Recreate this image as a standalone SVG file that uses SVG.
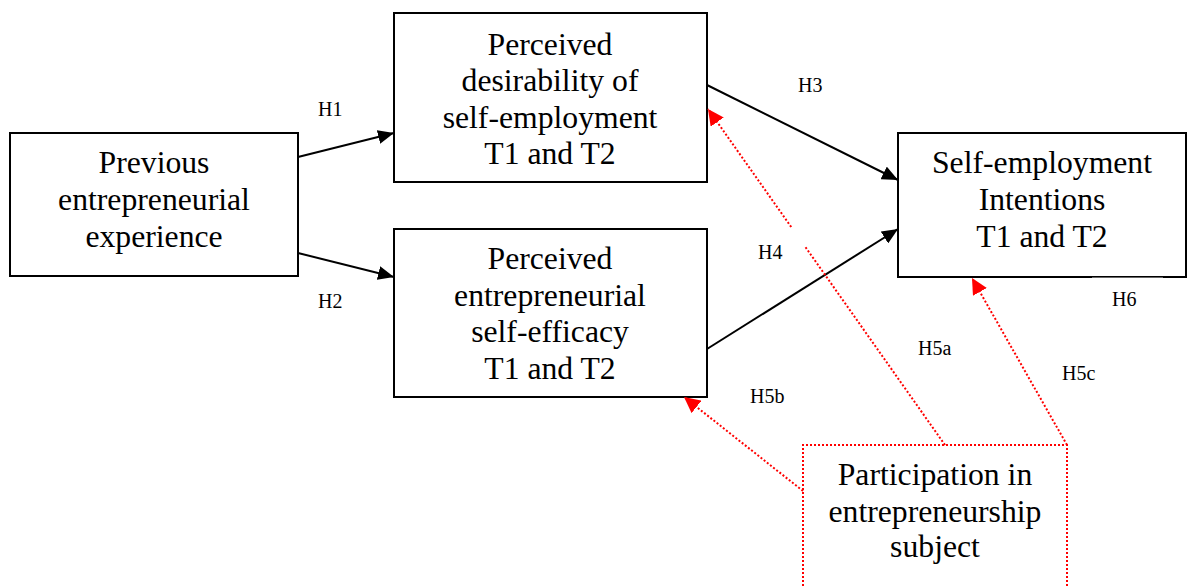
<svg xmlns="http://www.w3.org/2000/svg" width="1191" height="588" viewBox="0 0 1191 588">
  <style>
    .box { fill: #ffffff; stroke: #000000; stroke-width: 2; }
    .t { font-family: "Liberation Serif", "Times New Roman", serif; font-size: 31.7px; fill: #000000; text-anchor: middle; }
    .lbl { font-family: "Liberation Serif", "Times New Roman", serif; font-size: 20px; fill: #000000; }
    .solid { stroke: #000000; stroke-width: 2; fill: none; }
    .dot { stroke: #ff0000; stroke-width: 2; stroke-dasharray: 2 2; fill: none; }
  </style>
  <defs>
    <marker id="ab" markerUnits="userSpaceOnUse" markerWidth="18" markerHeight="14" refX="16" refY="7" orient="auto">
      <path d="M0,0 L16,7 L0,14 Z" fill="#000000"/>
    </marker>
    <marker id="ar" markerUnits="userSpaceOnUse" markerWidth="18" markerHeight="16" refX="16" refY="8" orient="auto">
      <path d="M0,0 L16,8 L0,16 Z" fill="#ff0000"/>
    </marker>
  </defs>
  <rect width="1191" height="588" fill="#ffffff"/>

  <g id="node-previous">
    <rect class="box" x="10" y="133" width="288" height="143"/>
    <text class="t" x="154" y="173">Previous</text>
    <text class="t" x="154" y="210">entrepreneurial</text>
    <text class="t" x="154" y="247">experience</text>
  </g>

  <g id="node-desirability">
    <rect class="box" x="394" y="13" width="313" height="169"/>
    <text class="t" x="550" y="55">Perceived</text>
    <text class="t" x="550" y="91">desirability of</text>
    <text class="t" x="550" y="128">self-employment</text>
    <text class="t" x="550" y="164">T1 and T2</text>
  </g>

  <g id="node-selfefficacy">
    <rect class="box" x="394" y="229" width="313" height="168"/>
    <text class="t" x="550" y="269">Perceived</text>
    <text class="t" x="550" y="306">entrepreneurial</text>
    <text class="t" x="550" y="342">self-efficacy</text>
    <text class="t" x="550" y="379">T1 and T2</text>
  </g>

  <g id="node-intentions">
    <rect class="box" x="898" y="133" width="288" height="144"/>
    <rect x="1092" y="277.6" width="71" height="2" fill="#ffffff"/>
    <text class="t" x="1042" y="173">Self-employment</text>
    <text class="t" x="1042" y="210">Intentions</text>
    <text class="t" x="1042" y="247">T1 and T2</text>
  </g>

  <g id="node-participation">
    <path class="dot" d="M803,590 L803,445 L1067,445 L1067,590"/>
    <text class="t" x="935" y="485">Participation in</text>
    <text class="t" x="935" y="522">entrepreneurship</text>
    <text class="t" x="935" y="557">subject</text>
  </g>

  <g id="connectors">
    <line class="solid" x1="298" y1="157" x2="394" y2="133" marker-end="url(#ab)"/>
    <line class="solid" x1="298" y1="253" x2="394" y2="277" marker-end="url(#ab)"/>
    <line class="solid" x1="707" y1="85" x2="898" y2="180" marker-end="url(#ab)"/>
    <line class="solid" x1="707" y1="349" x2="898" y2="229" marker-end="url(#ab)"/>

    <line class="dot" x1="945" y1="445" x2="804.7" y2="246"/>
    <line class="dot" x1="791.2" y1="227" x2="708" y2="109" marker-end="url(#ar)"/>
    <line class="dot" x1="803" y1="491" x2="684" y2="397" marker-end="url(#ar)"/>
    <line class="dot" x1="1067" y1="445" x2="972" y2="278" marker-end="url(#ar)"/>
  </g>

  <g id="labels">
    <text class="lbl" x="318" y="116">H1</text>
    <text class="lbl" x="318" y="308">H2</text>
    <text class="lbl" x="798" y="92">H3</text>
    <text class="lbl" x="758" y="259">H4</text>
    <text class="lbl" x="918" y="355">H5a</text>
    <text class="lbl" x="750" y="403">H5b</text>
    <text class="lbl" x="1062" y="380">H5c</text>
    <text class="lbl" x="1112" y="306">H6</text>
  </g>
</svg>
